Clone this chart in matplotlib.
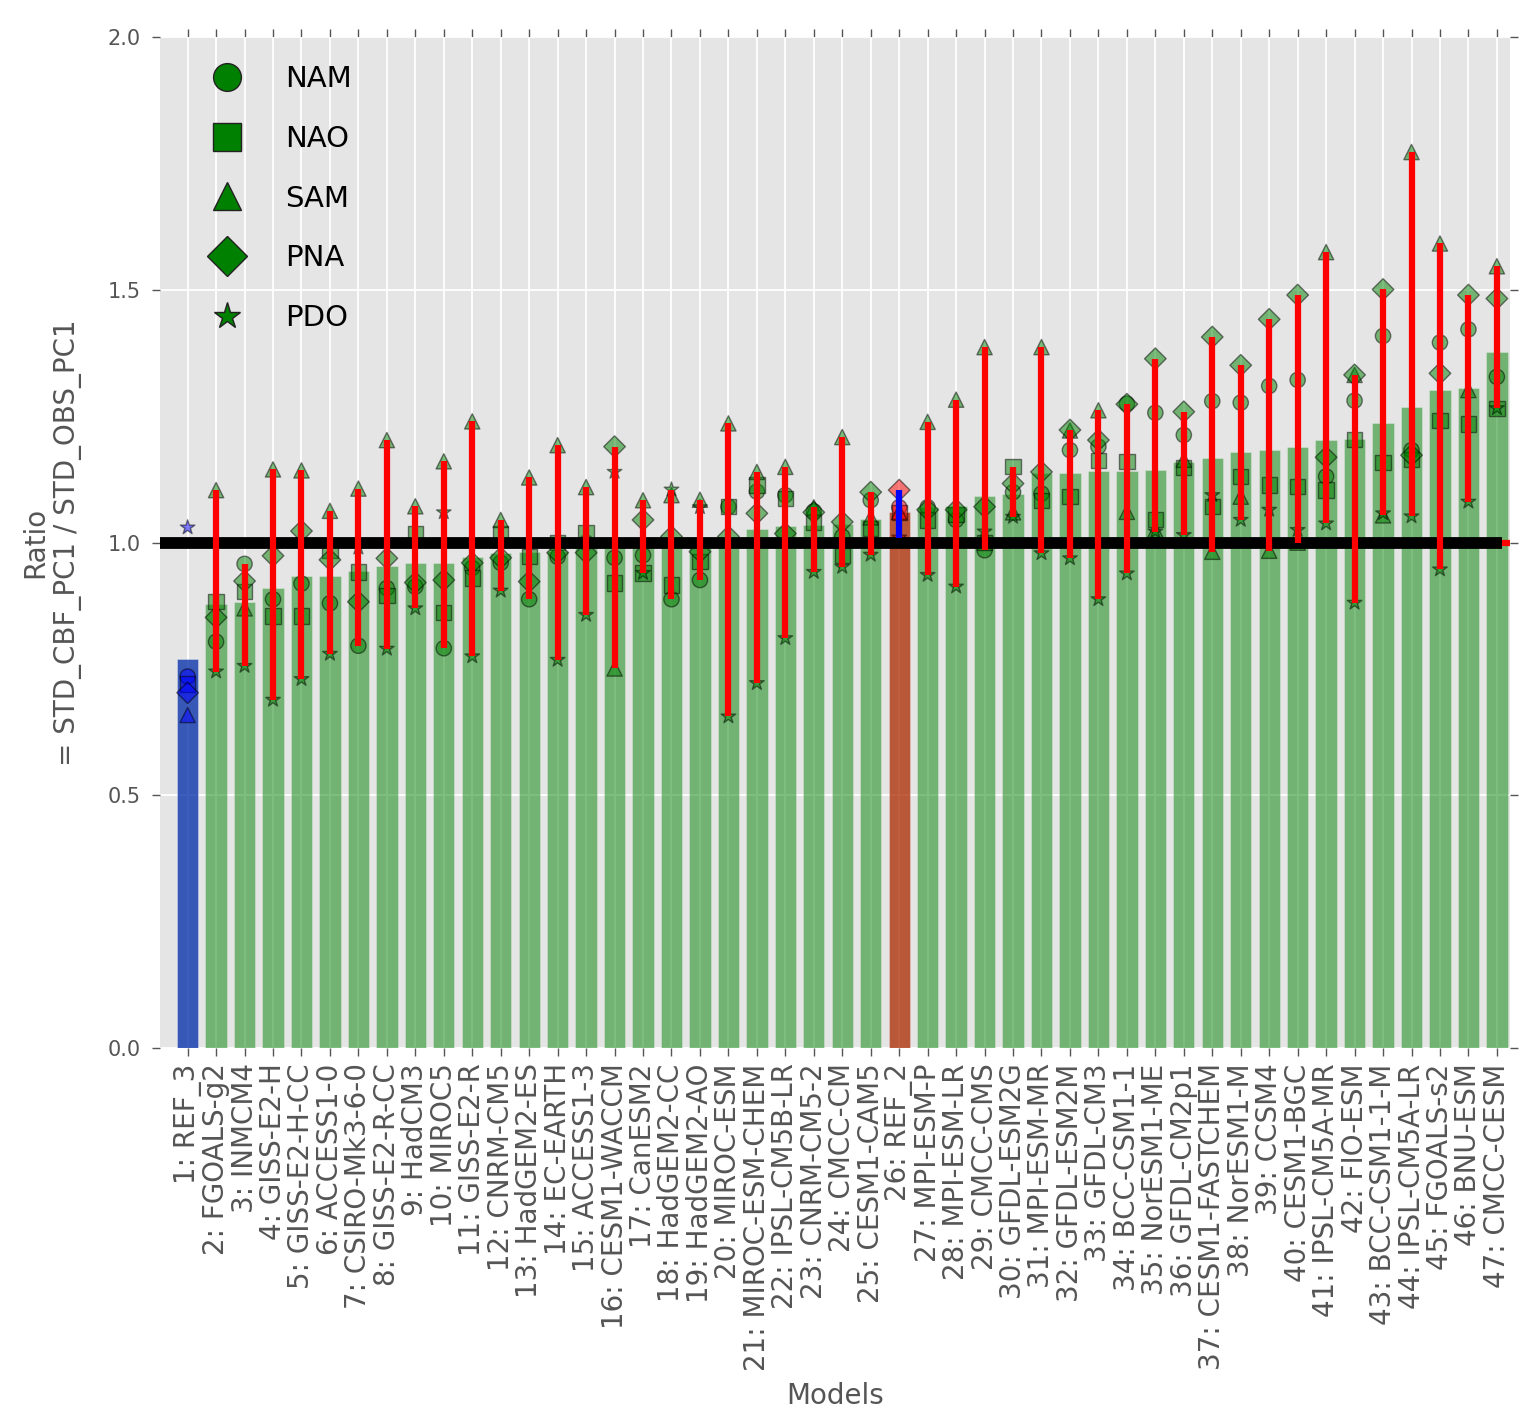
import numpy as np
import matplotlib
matplotlib.use('Agg')
import matplotlib.pyplot as plt
from matplotlib.lines import Line2D
from matplotlib.ticker import FormatStrFormatter

models = ['REF_3', 'FGOALS-g2', 'INMCM4', 'GISS-E2-H', 'GISS-E2-H-CC', 'ACCESS1-0',
          'CSIRO-Mk3-6-0', 'GISS-E2-R-CC', 'HadCM3', 'MIROC5', 'GISS-E2-R', 'CNRM-CM5',
          'HadGEM2-ES', 'EC-EARTH', 'ACCESS1-3', 'CESM1-WACCM', 'CanESM2', 'HadGEM2-CC',
          'HadGEM2-AO', 'MIROC-ESM', 'MIROC-ESM-CHEM', 'IPSL-CM5B-LR', 'CNRM-CM5-2',
          'CMCC-CM', 'CESM1-CAM5', 'REF_2', 'MPI-ESM-P', 'MPI-ESM-LR', 'CMCC-CMS',
          'GFDL-ESM2G', 'MPI-ESM-MR', 'GFDL-ESM2M', 'GFDL-CM3', 'BCC-CSM1-1', 'NorESM1-ME',
          'GFDL-CM2p1', 'CESM1-FASTCHEM', 'NorESM1-M', 'CCSM4', 'CESM1-BGC', 'IPSL-CM5A-MR',
          'FIO-ESM', 'BCC-CSM1-1-M', 'IPSL-CM5A-LR', 'FGOALS-s2', 'BNU-ESM', 'CMCC-CESM']

# std ratio of leading PC per mode
nam = [0.735, 0.804, 0.958, 0.888, 0.919, 0.880, 0.796, 0.910, 0.913, 0.791, 0.950, 0.960,
       0.888, 0.972, 1.000, 0.970, 0.975, 0.888, 0.926, 1.071, 1.101, 1.094, 1.062, 1.012,
       1.084, 1.070, 1.070, 1.045, 0.985, 1.100, 1.097, 1.183, 1.190, 1.275, 1.257, 1.213,
       1.280, 1.277, 1.310, 1.322, 1.131, 1.281, 1.409, 1.183, 1.396, 1.422, 1.328]
nao = [0.720, 0.884, 0.903, 0.855, 0.855, 0.985, 0.942, 0.895, 1.018, 0.862, 0.930, 1.018,
       0.972, 1.000, 1.020, 0.920, 0.940, 0.916, 0.963, 1.071, 1.114, 1.087, 1.040, 0.975,
       1.028, 1.060, 1.045, 1.055, 1.000, 1.150, 1.084, 1.091, 1.163, 1.160, 1.046, 1.149,
       1.071, 1.131, 1.114, 1.111, 1.104, 1.204, 1.158, 1.164, 1.241, 1.235, 1.266]
sam = [0.659, 1.104, 0.870, 1.145, 1.143, 1.063, 1.107, 1.203, 1.072, 1.161, 1.240, 1.045,
       1.129, 1.193, 1.110, 0.751, 1.084, 1.094, 1.085, 1.236, 1.140, 1.150, 1.070, 1.209,
       1.050, 1.061, 1.239, 1.283, 1.387, 1.060, 1.387, 1.222, 1.262, 1.061, 1.025, 1.164,
       0.982, 1.091, 0.984, 1.000, 1.575, 1.332, 1.054, 1.773, 1.592, 1.302, 1.547]
pna = [0.703, 0.852, 0.924, 0.974, 1.023, 0.966, 0.883, 0.969, 0.921, 0.926, 0.960, 0.970,
       0.923, 0.980, 0.980, 1.190, 1.045, 1.012, 0.982, 1.012, 1.058, 1.018, 1.060, 1.041,
       1.100, 1.104, 1.065, 1.065, 1.071, 1.117, 1.140, 1.223, 1.203, 1.274, 1.364, 1.259,
       1.407, 1.351, 1.442, 1.490, 1.169, 1.332, 1.501, 1.173, 1.335, 1.490, 1.483]
pdo = [1.030, 0.745, 0.756, 0.689, 0.730, 0.780, 0.990, 0.790, 0.870, 1.060, 0.775, 0.905,
       1.000, 0.768, 0.857, 1.140, 0.940, 1.105, 1.070, 0.656, 0.722, 0.811, 0.942, 0.952,
       0.976, 1.010, 0.936, 0.913, 1.022, 1.051, 0.979, 0.969, 0.888, 0.939, 1.022, 1.015,
       1.094, 1.045, 1.065, 1.025, 1.038, 0.881, 1.058, 1.052, 0.947, 1.081, 1.266]

modes = ['NAM', 'NAO', 'SAM', 'PNA', 'PDO']
mode_markers = ['o', 's', '^', 'D', '*']
ref_colors = {'REF_3': 'b', 'REF_2': 'r'}

txt = '#555555'
vals = np.array([nam, nao, sam, pna, pdo])
x = np.arange(1, len(models) + 1)
mean = vals.mean(axis=0)
lo = vals.min(axis=0)
hi = vals.max(axis=0)

fig = plt.figure(figsize=(15.24, 14.08), dpi=100)
ax = fig.add_axes([0.105, 0.2557, 0.8858, 0.7178])
ax.set_facecolor('#E5E5E5')
for sp in ax.spines.values():
    sp.set_visible(False)
ax.set_axisbelow(True)
ax.grid(True, color='white', linewidth=1.3)

# bars: mean of the five modes, reference runs tinted on top
ax.bar(x, mean, width=0.75, color='g', alpha=0.5, edgecolor='#EEEEEE', linewidth=0.5, zorder=1)
for i, m in enumerate(models):
    if m in ref_colors:
        ax.bar(x[i], mean[i], width=0.75, color=ref_colors[m], alpha=0.5,
               edgecolor='#EEEEEE', linewidth=0.5, zorder=1.1)

pt_colors = [ref_colors.get(m, 'g') for m in models]
for k, mk in enumerate(mode_markers):
    ax.scatter(x, vals[k], s=121, marker=mk, c=pt_colors, alpha=0.5,
               edgecolors='k', linewidths=1, zorder=2)

ax.axhline(1.0, color='r', linewidth=4.5, zorder=2.9)
ax.hlines(1.0, 0, len(models) + 0.17, color='k', linewidth=8.5, zorder=3)

# spread across modes
for i, m in enumerate(models):
    if m == 'REF_3':
        continue
    c = 'b' if m == 'REF_2' else 'r'
    ax.vlines(x[i], lo[i], hi[i], color=c, linewidth=4.5, zorder=4)

ax.set_xlim(0.03, 47.46)
ax.set_ylim(0, 2.0)
ax.set_yticks([0, 0.5, 1.0, 1.5, 2.0])
ax.yaxis.set_major_formatter(FormatStrFormatter('%.1f'))
ax.set_xticks(x)
ax.set_xticklabels(['%d: %s' % (i, m) for i, m in zip(x, models)], rotation=90, fontsize=20)
ax.tick_params(axis='both', direction='out', length=6, width=1, color=txt, labelcolor=txt,
               top=True, right=True)
ax.tick_params(axis='y', labelsize=15, pad=8)
ax.tick_params(axis='x', pad=5)

ax.set_ylabel('Ratio\n= STD_CBF_PC1 / STD_OBS_PC1', fontsize=20, color=txt, labelpad=18)
ax.set_xlabel('Models', fontsize=20, color=txt, labelpad=8)

handles = [Line2D([], [], linestyle='none', marker=mk, markersize=20, markerfacecolor='g',
                  markeredgecolor='#222222', markeredgewidth=1) for mk in mode_markers]
ax.legend(handles, modes, loc='upper left', bbox_to_anchor=(0.017, 0.987), frameon=False,
          fontsize=21, borderpad=0, labelspacing=1.09, handletextpad=1.0, numpoints=1)

fig.savefig('out.png', dpi=100)
